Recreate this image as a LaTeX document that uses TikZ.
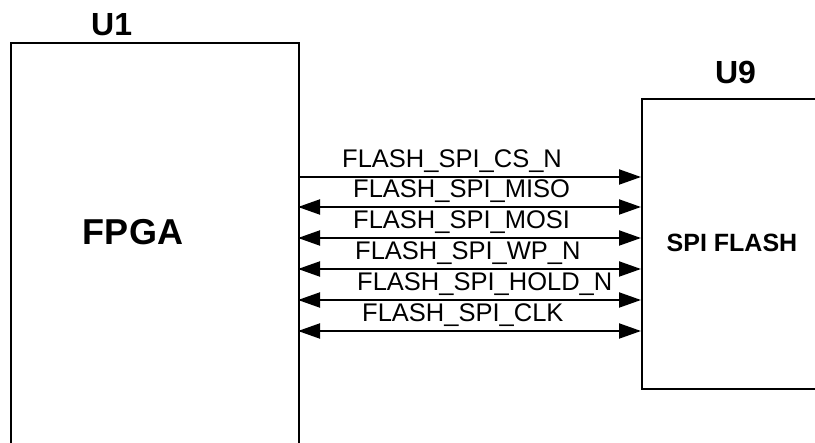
\documentclass[tikz,border=0pt]{standalone}
\usepackage{fontspec}
\setmainfont{Liberation Sans}
\usetikzlibrary{arrows.meta}
\begin{document}
\begin{tikzpicture}[x=1pt,y=-1pt,
  chip/.style={draw=black,line width=2pt,inner sep=0pt,anchor=north west},
  refdes/.style={font=\fontsize{32}{36}\selectfont\bfseries,inner sep=0pt,anchor=base},
  partname/.style={inner sep=0pt,anchor=base},
  sig/.style={line width=2pt,-{Triangle[length=22pt,width=15pt]}},
  bidir/.style={line width=2pt,{Triangle[length=22pt,width=15pt]}-{Triangle[length=22pt,width=15pt]}},
  lbl/.style={font=\fontsize{25.5}{30}\selectfont,inner sep=0pt,anchor=base west}]
\useasboundingbox (0,0) rectangle (815,443);
\clip (0,0) rectangle (815,443);
\fill[white] (0,0) rectangle (815,443);
% chips
\node[chip,minimum width=288pt,minimum height=430pt] (u1) at (10,42) {};
\node[chip,minimum width=200pt,minimum height=290pt] (u9) at (641,98) {};
\node[refdes] (u1ref) at (111.7,36) {U1};
\node[refdes] (u9ref) at (735.5,84) {U9};
\node[partname,font=\fontsize{36}{40}\selectfont\bfseries] (fpga) at (133,245) {FPGA};
\node[partname,font=\fontsize{25}{30}\selectfont\bfseries] (flash) at (732,252) {SPI FLASH};
% connection points
\foreach \i/\y in {1/177,2/207,3/238,4/269,5/300,6/331}{
  \coordinate (l\i) at (298,\y);
  \coordinate (r\i) at (641,\y);
}
\draw[sig] (l1) -- (r1);
\draw[bidir] (l2) -- (r2);
\draw[bidir] (l3) -- (r3);
\draw[bidir] (l4) -- (r4);
\draw[bidir] (l5) -- (r5);
\draw[bidir] (l6) -- (r6);
% labels
\node[lbl] (t1) at (342,168) {FLASH\_SPI\_CS\_N};
\node[lbl] (t2) at (353,198) {FLASH\_SPI\_MISO};
\node[lbl] (t3) at (353,229) {FLASH\_SPI\_MOSI};
\node[lbl] (t4) at (355,260) {FLASH\_SPI\_WP\_N};
\node[lbl] (t5) at (357,291) {FLASH\_SPI\_HOLD\_N};
\node[lbl] (t6) at (362,322) {FLASH\_SPI\_CLK};
\end{tikzpicture}
\end{document}
